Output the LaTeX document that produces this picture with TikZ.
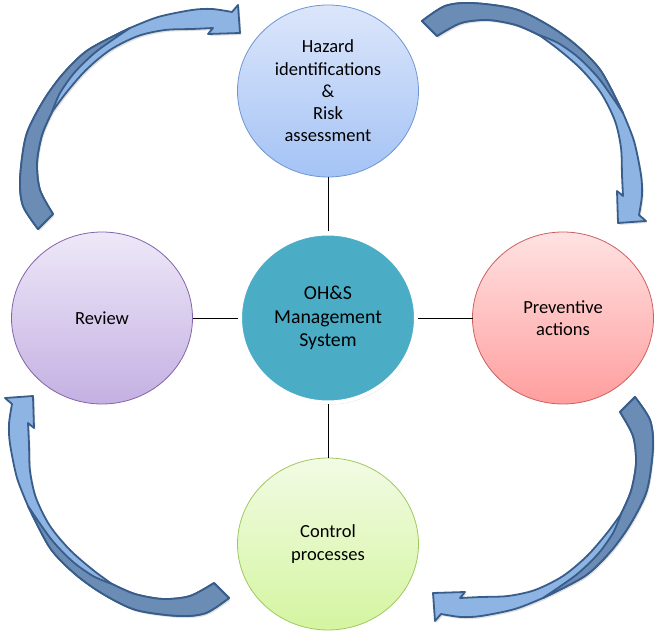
\documentclass[tikz,border=0pt]{standalone}
\usepackage{fontspec}
\setmainfont{Carlito}
\usetikzlibrary{positioning,shapes.geometric,shadows}

\definecolor{arrowfront}{RGB}{141,180,226}
\definecolor{arrowback}{RGB}{106,140,181}
\definecolor{arrowedge}{RGB}{56,93,138}
\definecolor{systeal}{RGB}{75,172,198}

\tikzset{
  phase/.style={ellipse,line width=.8pt,minimum width=181pt,minimum height=172pt,
    inner sep=0pt,outer sep=0pt,align=center,font=\fontsize{18.5}{22.3}\selectfont},
  link/.style={draw=black,line width=.8pt},
  arrowbody/.style={fill=arrowfront,draw=arrowedge,line width=1.8pt,line join=round,
    drop shadow={shadow xshift=1.5pt,shadow yshift=-2pt,opacity=.25}},
  arrowturn/.style={fill=arrowback,draw=arrowedge,line width=1.8pt,line join=round},
  cyclearrow/.pic={
    % whole arrow, front side
    \filldraw[arrowbody] plot[smooth] coordinates {(-202,196) (-217,173) (-220,146) (-214,103) (-198,70) (-178,42) (-152,17) (-110,-5)}
      -- plot[smooth] coordinates {(-110,-5) (-82,-16) (-48,-23) (-28,-24) (-8,-21)}
      -- (-2,-28) -- (0,0) -- (-32,1) -- (-27,-5)
      -- plot[smooth] coordinates {(-27,-5) (-48,-4) (-75,-3) (-102,3) (-130,17) (-154,37) (-174,60) (-188,79)}
      -- plot[smooth] coordinates {(-188,79) (-198,102) (-203,130) (-200,157) (-187,181)} -- cycle;
    % back side near the tail
    \filldraw[arrowturn] plot[smooth] coordinates {(-202,196) (-217,173) (-220,146) (-214,103) (-198,70) (-178,42) (-152,17) (-110,-5)}
      -- plot[smooth] coordinates {(-110,-5) (-143,18) (-165,39) (-180,60) (-188,79)}
      -- plot[smooth] coordinates {(-188,79) (-198,102) (-203,130) (-200,157) (-187,181)} -- cycle;
  }
}

\begin{document}
\begin{tikzpicture}[x=1pt,y=-1pt,on grid]
\useasboundingbox (0,0) rectangle (670,636);

\node[ellipse,fill=systeal,draw=white,line width=4pt,minimum width=176pt,minimum height=169pt,
  inner sep=0pt,align=center,font=\fontsize{19.8}{23.3}\selectfont,
  drop shadow={shadow xshift=1pt,shadow yshift=-2pt,opacity=.35}] (sys) at (328,318)
  {OH\&S\\Management\\System};

\node[phase,draw={rgb,255:red,110;green,150;blue,210},top color={rgb,255:red,220;green,230;blue,251},
  bottom color={rgb,255:red,164;green,195;blue,245},above=227pt of sys] (hazard)
  {Hazard\\identifications\\\&\\Risk\\assessment};
\node[phase,draw={rgb,255:red,205;green,95;blue,95},top color={rgb,255:red,255;green,226;blue,226},
  bottom color={rgb,255:red,255;green,158;blue,158},right=235pt of sys] (prevent)
  {Preventive\\actions};
\node[phase,draw={rgb,255:red,160;green,200;blue,95},top color={rgb,255:red,242;green,251;blue,228},
  bottom color={rgb,255:red,212;green,245;blue,160},below=226pt of sys] (control)
  {Control\\processes};
\node[phase,draw={rgb,255:red,130;green,100;blue,170},top color={rgb,255:red,238;green,232;blue,248},
  bottom color={rgb,255:red,196;green,176;blue,226},left=226pt of sys] (review)
  {Review};

\foreach \n in {hazard,prevent,control,review}
  \draw[link] (sys) -- (\n);

\pic at (240,33) {cyclearrow};
\pic[rotate=-90] at (618,223) {cyclearrow};
\pic[rotate=180] at (433,593) {cyclearrow};
\pic[rotate=90] at (33,396) {cyclearrow};

\end{tikzpicture}
\end{document}
